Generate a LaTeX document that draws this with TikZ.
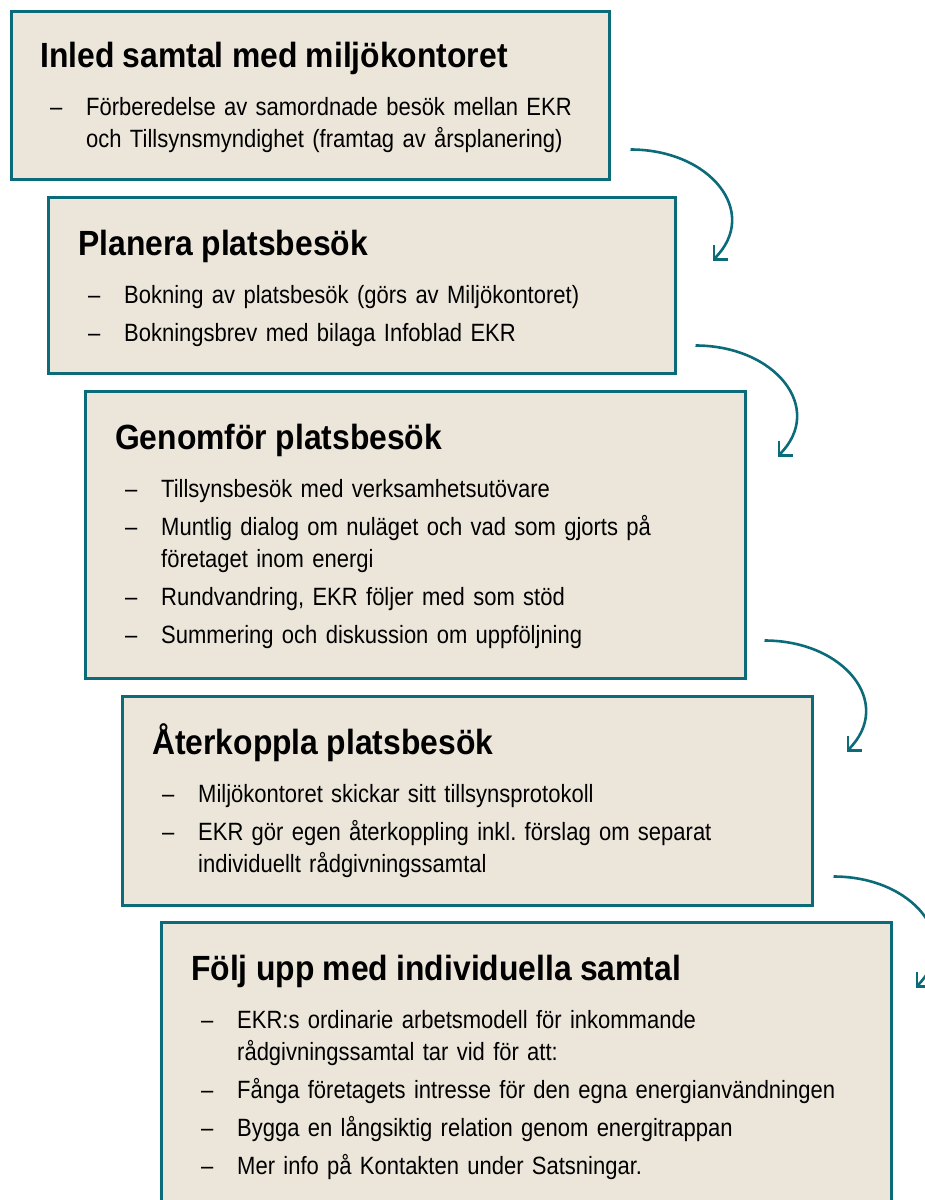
\documentclass[tikz,border=0pt]{standalone}
\usepackage{fontspec}
\setmainfont{Liberation Sans}[FakeStretch=0.88]
\newfontfamily\titlefont{Liberation Sans}[FakeStretch=0.91]
\usetikzlibrary{arrows.meta}

\definecolor{ekrteal}{HTML}{0B6B78}
\definecolor{ekrsand}{HTML}{ECE6DA}

\newcommand{\steptitle}[1]{{\fontsize{35}{35}\titlefont\bfseries #1\par}\vspace{10pt}}
\newcommand{\itm}[1]{\par\noindent\hbox to 46pt{\hspace{10pt}--\hfil}\parbox[t]{700pt}{#1\strut}\par\prevdepth=\dp\strutbox}

\tikzset{
  stepbox/.style={draw=ekrteal, fill=ekrsand, line width=2.5pt, anchor=north west, inner sep=0pt},
  steptext/.style={anchor=base west, inner sep=0pt, text width=780pt, align=left,
    font=\fontsize{25}{32}\selectfont\setlength{\parskip}{6pt}},
  flow/.style={draw=ekrteal, line width=2.6pt, -{Straight Barb[length=10pt,width=20pt]}}
}

\begin{document}
\begin{tikzpicture}[x=1pt, y=-1pt]
\useasboundingbox (0,0) rectangle (925,1200);

% the five steps
\node[stepbox, minimum width=598pt, minimum height=168pt] (b1) at (10,10) {};
\node[stepbox, minimum width=627pt, minimum height=176pt] (b2) at (47,196) {};
\node[stepbox, minimum width=660pt, minimum height=287pt] (b3) at (84,390) {};
\node[stepbox, minimum width=690pt, minimum height=209pt] (b4) at (121,695) {};
\node[stepbox, minimum width=730pt, minimum height=320pt] (b5) at (160,921) {};

\node[steptext] (t1) at ([shift={(30,57)}]b1.north west) {\steptitle{Inled samtal med miljökontoret}
\itm{Förberedelse av samordnade besök mellan EKR\\och Tillsynsmyndighet (framtag av årsplanering)}};

\node[steptext] (t2) at ([shift={(31,59)}]b2.north west) {\steptitle{Planera platsbesök}
\itm{Bokning av platsbesök (görs av Miljökontoret)}
\itm{Bokningsbrev med bilaga Infoblad EKR}};

\node[steptext] (t3) at ([shift={(31,59)}]b3.north west) {\steptitle{Genomför platsbesök}
\itm{Tillsynsbesök med verksamhetsutövare}
\itm{Muntlig dialog om nuläget och vad som gjorts på\\företaget inom energi}
\itm{Rundvandring, EKR följer med som stöd}
\itm{Summering och diskussion om uppföljning}};

\node[steptext] (t4) at ([shift={(31,59)}]b4.north west) {\steptitle{Återkoppla platsbesök}
\itm{Miljökontoret skickar sitt tillsynsprotokoll}
\itm{EKR gör egen återkoppling inkl.\ förslag om separat\\individuellt rådgivningssamtal}};

\node[steptext] (t5) at ([shift={(31,59)}]b5.north west) {\steptitle{Följ upp med individuella samtal}
\itm{EKR:s ordinarie arbetsmodell för inkommande\\rådgivningssamtal tar vid för att:}
\itm{Fånga företagets intresse för den egna energianvändningen}
\itm{Bygga en långsiktig relation genom energitrappan}
\itm{Mer info på Kontakten under Satsningar.}};

% arrows between the steps
\coordinate (s1) at ([shift={(20,-31)}]b1.south east);
\coordinate (e1) at ([shift={(82,111)}]s1);
\coordinate (s2) at ([shift={(19,-29)}]b2.south east);
\coordinate (e2) at ([shift={(82,111)}]s2);
\coordinate (s3) at ([shift={(18,-39)}]b3.south east);
\coordinate (e3) at ([shift={(82,111)}]s3);
\coordinate (s4) at ([shift={(20,-30)}]b4.south east);
\coordinate (e4) at ([shift={(82,111)}]s4);

\draw[flow] (s1) .. controls +(80,0) and +(48,-48) .. (e1);
\draw[flow] (s2) .. controls +(80,0) and +(48,-48) .. (e2);
\draw[flow] (s3) .. controls +(80,0) and +(48,-48) .. (e3);
\draw[flow] (s4) .. controls +(80,0) and +(48,-48) .. (e4);
\end{tikzpicture}
\end{document}
